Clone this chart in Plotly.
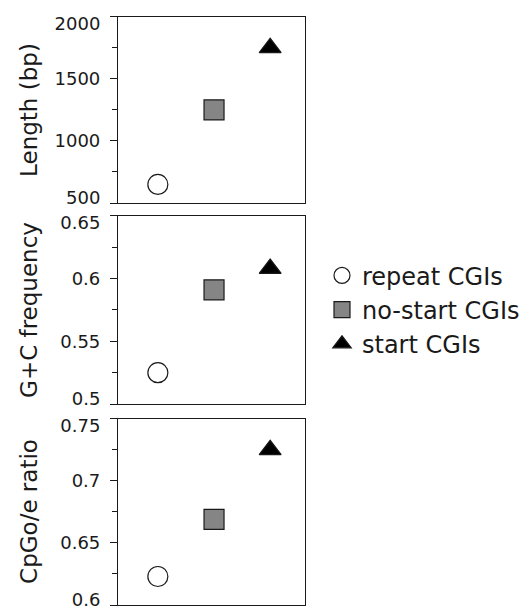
import plotly.graph_objects as go

categories = ["repeat CGIs", "no-start CGIs", "start CGIs"]
length_bp = [650, 1250, 1750]
gc_freq = [0.525, 0.591, 0.608]
cpg_oe = [0.623, 0.669, 0.725]

panel_titles = ["Length (bp)", "G+C frequency", "CpGo/e ratio"]
panel_ranges = [[500, 2000], [0.5, 0.65], [0.6, 0.75]]
panel_ticks = [[500, 1000, 1500, 2000], [0.5, 0.55, 0.6, 0.65], [0.6, 0.65, 0.7, 0.75]]
panel_ticktext = [["500", "1000", "1500", "2000"], ["0.5", "0.55", "0.6", "0.65"], ["0.6", "0.65", "0.7", "0.75"]]
panel_minor = [250, 0.025, 0.025]

symbols = ["circle-open", "square", "triangle-up"]
colors = ["#1a1a1a", "#858585", "#000000"]
sizes = [20, 20, 19]

FONT = "DejaVu Sans, Arial, sans-serif"
INK = "#1a1a1a"

W, H = 532, 612


def fx(px):
    return px / W


def fy(py):
    return 1 - py / H


series = [length_bp, gc_freq, cpg_oe]
xdom = [fx(118), fx(305)]
panel_px = [(13, 202), (215, 406), (421, 610)]
ydoms = [[fy(b), fy(t)] for t, b in panel_px]

fig = go.Figure()
annotations = []
layout_axes = {}
n_main = len(series)
for p, vals in enumerate(series):
    k = p + 1
    ax = "" if k == 1 else str(k)
    for i, cat in enumerate(categories):
        fig.add_trace(go.Scatter(
            x=[i], y=[vals[i]], mode="markers", name=cat,
            legendgroup=cat, showlegend=(p == 0),
            xaxis="x" + ax, yaxis="y" + ax,
            marker=dict(symbol=symbols[i], size=sizes[i], color=colors[i],
                        line=dict(color=INK, width=1.2)),
            cliponaxis=False, hoverinfo="name+y",
        ))
    layout_axes["xaxis" + ax] = dict(
        domain=xdom, range=[-0.71, 2.62], showticklabels=False, ticks="",
        showgrid=False, zeroline=False, showline=True, linecolor=INK,
        linewidth=1.2, mirror=True, anchor="y" + ax,
    )
    inner_text = [t if 0 < j < len(panel_ticks[p]) - 1 else ""
                  for j, t in enumerate(panel_ticktext[p])]
    layout_axes["yaxis" + ax] = dict(
        domain=ydoms[p], range=panel_ranges[p], tickvals=panel_ticks[p],
        ticktext=inner_text, ticks="outside", ticklen=7, tickwidth=1.2,
        tickcolor=INK, showgrid=False, zeroline=False, showline=True,
        linecolor=INK, linewidth=1.2, mirror=True, anchor="x" + ax,
        tickfont=dict(family=FONT, size=18, color=INK),
        minor=dict(dtick=panel_minor[p], tick0=panel_ranges[p][0], ticks="outside",
                   ticklen=5, tickwidth=1.2, tickcolor=INK, showgrid=False),
        ticklabelstandoff=6,
    )
    # edge labels pulled slightly inside the panel, as in the original
    for which, shift in ((0, -5), (-1, 7)):
        kk = n_main + 1 + 2 * p + (0 if which == 0 else 1)
        name = "yaxis" + str(kk)
        layout_axes[name] = dict(
            overlaying="y" + ax, range=panel_ranges[p],
            tickvals=[panel_ticks[p][which]], ticktext=[panel_ticktext[p][which]],
            ticks="outside", ticklen=7, tickcolor="rgba(0,0,0,0)",
            showgrid=False, zeroline=False, showline=False, anchor="x" + ax,
            side="left", tickfont=dict(family=FONT, size=18, color=INK),
            ticklabelshift=shift, ticklabelstandoff=6,
        )
        fig.add_trace(go.Scatter(x=[], y=[], xaxis="x" + ax, yaxis="y" + str(kk),
                                 showlegend=False, hoverinfo="skip"))
    annotations.append(dict(
        text=panel_titles[p], textangle=-90, x=fx(29), y=sum(ydoms[p]) / 2,
        xref="paper", yref="paper", xanchor="center", yanchor="middle",
        showarrow=False, font=dict(family=FONT, size=23, color=INK),
    ))

fig.update_layout(**layout_axes)
fig.update_layout(
    width=W, height=H, margin=dict(l=0, r=0, t=0, b=0),
    paper_bgcolor="white", plot_bgcolor="white",
    annotations=annotations, hovermode="closest",
    legend=dict(x=fx(322), y=fy(253), xanchor="left", yanchor="top",
                font=dict(family=FONT, size=24, color=INK),
                itemwidth=30, tracegroupgap=0, bgcolor="rgba(0,0,0,0)"),
)

# remove the browser's default page margin so the figure fills the window
fig.write_html("out.html",
               config={"displayModeBar": False},
               post_script="document.body.style.margin='0';document.body.style.overflow='hidden';")
